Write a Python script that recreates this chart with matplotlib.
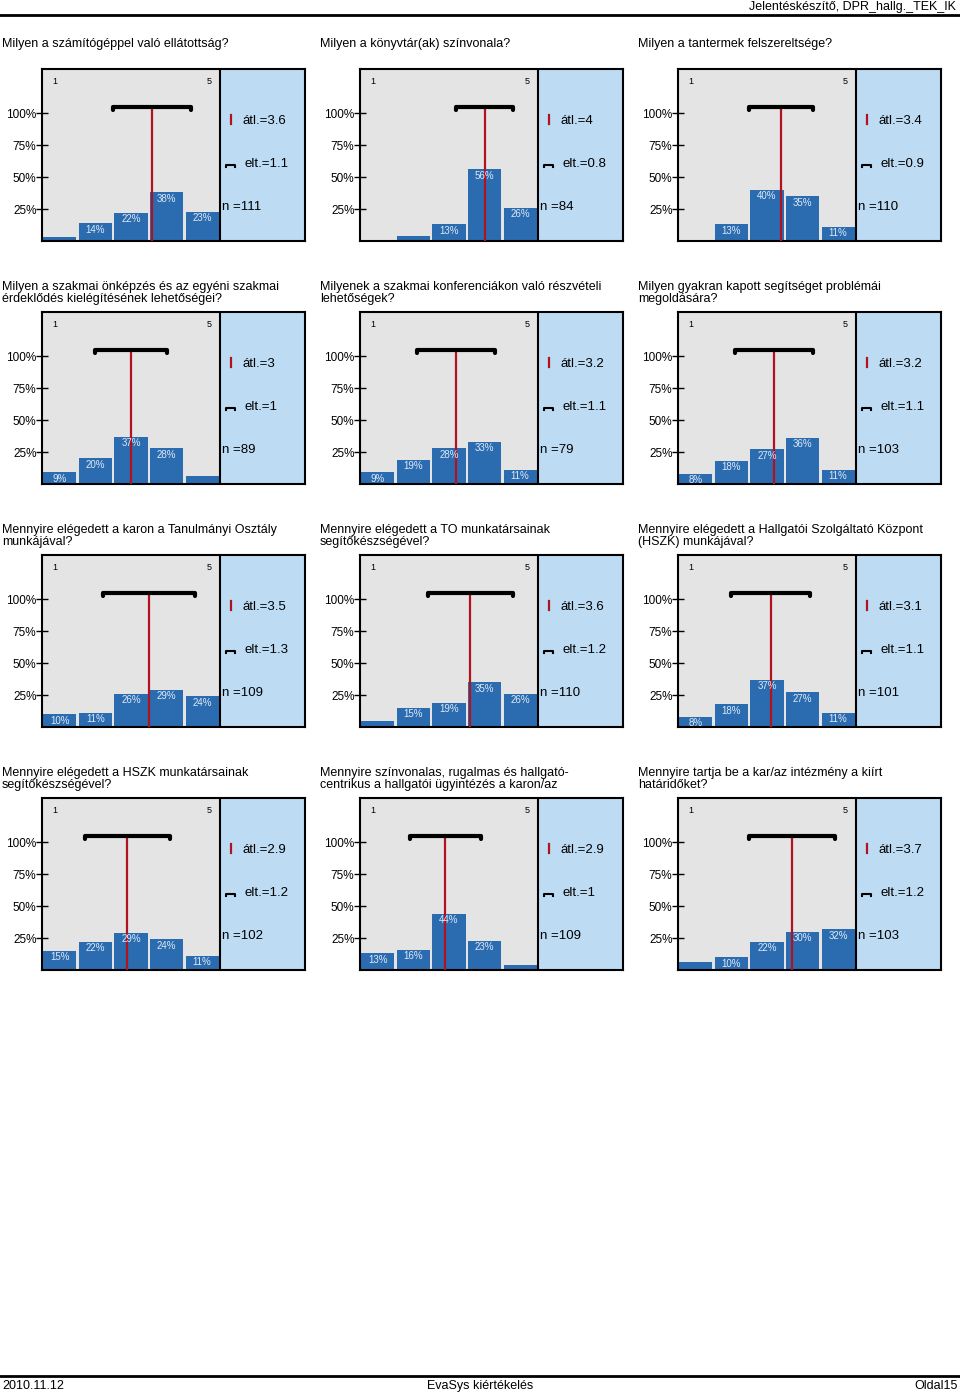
#!/usr/bin/env python3
import matplotlib
matplotlib.use("Agg")
import matplotlib.pyplot as plt

plt.rcParams["font.family"] = ["Liberation Sans", "DejaVu Sans"]

TITLES = [
    "Milyen a számítógéppel való ellátottság?",
    "Milyen a könyvtár(ak) színvonala?",
    "Milyen a tantermek felszereltsége?",
    "Milyen a szakmai önképzés és az egyéni szakmai\nérdeklődés kielégítésének lehetőségei?",
    "Milyenek a szakmai konferenciákon való részvételi\nlehetőségek?",
    "Milyen gyakran kapott segítséget problémái\nmegoldására?",
    "Mennyire elégedett a karon a Tanulmányi Osztály\nmunkájával?",
    "Mennyire elégedett a TO munkatársainak\nsegítőkészségével?",
    "Mennyire elégedett a Hallgatói Szolgáltató Központ\n(HSZK) munkájával?",
    "Mennyire elégedett a HSZK munkatársainak\nsegítőkészségével?",
    "Mennyire színvonalas, rugalmas és hallgató-\ncentrikus a hallgatói ügyintézés a karon/az",
    "Mennyire tartja be a kar/az intézmény a kiírt\nhatáridőket?",
]
# percent of answers for scale values 1..5
DISTS = [
    [3, 14, 22, 38, 23],
    [1, 4, 13, 56, 26],
    [1, 13, 40, 35, 11],
    [9, 20, 37, 28, 6],
    [9, 19, 28, 33, 11],
    [8, 18, 27, 36, 11],
    [10, 11, 26, 29, 24],
    [5, 15, 19, 35, 26],
    [8, 18, 37, 27, 11],
    [15, 22, 29, 24, 11],
    [13, 16, 44, 23, 4],
    [6, 10, 22, 30, 32],
]
MEANS = ["3.6", "4", "3.4", "3", "3.2", "3.2", "3.5", "3.6", "3.1", "2.9", "2.9", "3.7"]
SDS = ["1.1", "0.8", "0.9", "1", "1.1", "1.1", "1.3", "1.2", "1.1", "1.2", "1", "1.2"]
NS = [111, 84, 110, 89, 79, 103, 109, 110, 101, 102, 109, 103]

W, H = 960, 1395
BAR_COLOR = "#2b6cb0"
GRAY_BG = "#e4e4e4"
BLUE_BG = "#bddcf4"
RED = "#b0121f"
YTOP = 134.4
XMAX = 7.89


def draw_panel(fig, idx):
    row, col = divmod(idx, 3)
    left = 42 + col * 318
    top = 69 + row * 243
    pw, ph = 263, 172

    # question title
    fig.text((2 + col * 318) / W, 1 - (top - 31) / H, TITLES[idx],
             fontsize=9, va="top", ha="left", linespacing=1.0)

    ax = fig.add_axes([left / W, 1 - (top + ph) / H, pw / W, ph / H])
    ax.set_xlim(0.5, XMAX)
    ax.set_ylim(0, YTOP)
    ax.set_facecolor(GRAY_BG)
    ax.axvspan(5.5, XMAX, color=BLUE_BG, zorder=0)
    ax.axvline(5.5, color="black", lw=1.5, zorder=3)

    vals = DISTS[idx]
    xs = [1, 2, 3, 4, 5]
    ax.bar(xs, vals, width=0.93, color=BAR_COLOR, zorder=2)
    for x, v in zip(xs, vals):
        if v >= 7:
            ax.text(x, v - 1.2, f"{v}%", ha="center", va="top",
                    fontsize=7, color="#dfe9f5", zorder=5)

    mean = float(MEANS[idx])
    sd = float(SDS[idx])
    ax.plot([mean, mean], [0, 104.7], color=RED, lw=1.6, zorder=4)
    ax.plot([mean - sd, mean - sd, mean + sd, mean + sd],
            [102.5, 104.7, 104.7, 102.5], color="black", lw=3,
            solid_capstyle="round", solid_joinstyle="round", zorder=4)

    ax.text(0.85, 125, "1", fontsize=6.5, ha="center", va="center")
    ax.text(5.2, 125, "5", fontsize=6.5, ha="center", va="center")

    # legend area
    ax.plot([5.81, 5.81], [91.5, 98.5], color=RED, lw=1.6)
    ax.text(6.12, 93.8, f"átl.={MEANS[idx]}", fontsize=9.5, va="center")
    ax.plot([5.68, 5.68, 5.93, 5.93], [57.5, 59.5, 59.5, 57.5], color="black", lw=1.5)
    ax.text(6.2, 60, f"elt.={SDS[idx]}", fontsize=9.5, va="center")
    ax.text(5.56, 26.5, f"n ={NS[idx]}", fontsize=9.5, va="center")

    ax.set_xticks([])
    ax.set_yticks([25, 50, 75, 100])
    ax.set_yticklabels(["25%", "50%", "75%", "100%"])
    ax.tick_params(axis="y", direction="inout", length=8, width=1,
                   labelsize=8.5, pad=0)
    for sp in ax.spines.values():
        sp.set_linewidth(1.5)


def main():
    fig = plt.figure(figsize=(W / 100, H / 100), dpi=100)

    fig.text(956 / W, 1 - 7 / H, "Jelentéskészítő, DPR_hallg._TEK_IK",
             fontsize=9, ha="right", va="center")
    fig.add_artist(plt.Line2D([0, 1], [1 - 15 / H, 1 - 15 / H],
                              color="black", lw=2))

    for i in range(len(TITLES)):
        draw_panel(fig, i)

    fig.add_artist(plt.Line2D([0, 1], [1 - 1376 / H, 1 - 1376 / H],
                              color="black", lw=2))
    fig.text(2 / W, 1 - 1386 / H, "2010.11.12", fontsize=9, va="center")
    fig.text(0.5, 1 - 1386 / H, "EvaSys kiértékelés", fontsize=9,
             ha="center", va="center")
    fig.text(958 / W, 1 - 1386 / H, "Oldal15", fontsize=9,
             ha="right", va="center")

    fig.savefig("out.png", dpi=100)


if __name__ == "__main__":
    main()
